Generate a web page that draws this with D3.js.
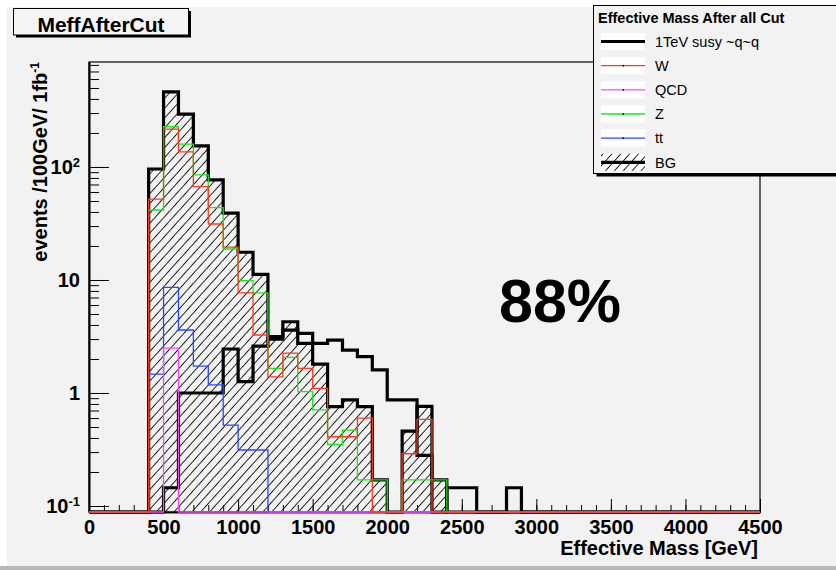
<!DOCTYPE html>
<html>
<head>
<meta charset="utf-8">
<script src="https://cdn.jsdelivr.net/npm/d3@7"></script>
<style>
  body { margin: 0; background: #fff; }
  text { font-family: "Liberation Sans", Arial, Helvetica, sans-serif; }
</style>
</head>
<body>
<div id="chart"></div>
<script>
var svgWidth = 836;
var svgHeight = 570;

// frame of the plot (pixels)
var frame = { left: 89, top: 62, right: 760, bottom: 512 };

// 100 GeV bins, 0 .. 4500 GeV
var binWidth = 100;
var binEdges = d3.range(0, 4501, binWidth);

// bin contents, events /100GeV/ 1fb-1 (45 bins each)
var susy = [0, 0, 0, 0, 0, 0.145, 1.0, 1.0, 1.0, 2.45, 1.26, 2.6, 3.0, 3.6, 3.37,
            2.75, 2.94, 2.4, 2.1, 1.6, 0.87, 0.87, 0.28, 0, 0.145, 0.145, 0, 0, 0.145, 0,
            0, 0, 0, 0, 0, 0, 0, 0, 0, 0, 0, 0, 0, 0, 0];
var bgTotal = [0, 0, 0, 0, 96, 461, 293, 154, 77, 39, 17.6, 11.2, 3.15, 4.27, 2.75,
               1.8, 0.757, 0.87, 0.757, 0.17, 0, 0.46, 0.76, 0.17, 0, 0, 0, 0, 0, 0,
               0, 0, 0, 0, 0, 0, 0, 0, 0, 0, 0, 0, 0, 0, 0];
var wJets = [0, 0, 0, 0, 52, 216, 136, 67, 31.3, 19.5, 7.7, 3.26, 1.39, 2.25, 1.65,
             1.10, 0.41, 0.41, 0.60, 0, 0, 0.29, 0.585, 0, 0, 0, 0, 0, 0, 0,
             0, 0, 0, 0, 0, 0, 0, 0, 0, 0, 0, 0, 0, 0, 0];
var qcd = [0, 0, 0, 0, 0, 2.49, 0, 0, 0, 0, 0, 0, 0, 0, 0,
           0, 0, 0, 0, 0, 0, 0, 0, 0, 0, 0, 0, 0, 0, 0,
           0, 0, 0, 0, 0, 0, 0, 0, 0, 0, 0, 0, 0, 0, 0];
var zJets = [0, 0, 0, 0, 41.6, 227, 159, 85, 43.6, 18.8, 9.86, 7.7, 1.65, 2.07, 1.03,
             0.71, 0.35, 0.47, 0.17, 0.17, 0, 0.17, 0.17, 0.17, 0, 0, 0, 0, 0, 0,
             0, 0, 0, 0, 0, 0, 0, 0, 0, 0, 0, 0, 0, 0, 0];
var ttbar = [0, 0, 0, 0, 1.47, 8.6, 3.61, 1.73, 1.18, 0.52, 0.313, 0.313, 0, 0, 0,
             0, 0, 0, 0, 0, 0, 0, 0, 0, 0, 0, 0, 0, 0, 0,
             0, 0, 0, 0, 0, 0, 0, 0, 0, 0, 0, 0, 0, 0, 0];

// axis ticks
var xMajorTicks = [0, 500, 1000, 1500, 2000, 2500, 3000, 3500, 4000, 4500];
var yMajorTicks = [0.1, 1, 10, 100];
var yTickLabels = [["10", "-1"], ["1", ""], ["10", ""], ["10", "2"]];

var legendLabels = ["1TeV susy ~q~q", "W", "QCD", "Z", "tt", "BG"];
var legendColors = ["#000", "#ff3a22", "#ff44ff", "#18e818", "#2a48ff", "#000"];

var svg = d3.select("#chart")
    .append("svg")
    .attr("width", svgWidth)
    .attr("height", svgHeight);

// hatch for the summed background
var defs = svg.append("defs");
defs.append("pattern")
    .attr("id", "hatch")
    .attr("patternUnits", "userSpaceOnUse")
    .attr("width", 12)
    .attr("height", 6.6)
    .attr("patternTransform", "rotate(-48)")
  .append("line")
    .attr("x1", 0).attr("y1", 3.3)
    .attr("x2", 12).attr("y2", 3.3)
    .attr("stroke", "#1a1a1a")
    .attr("stroke-width", 1);

// canvas background
svg.append("rect")
    .attr("x", 7).attr("y", 7)
    .attr("width", svgWidth - 7).attr("height", 559)
    .attr("fill", "#f2f2f2");
svg.append("rect")
    .attr("x", 0).attr("y", 566)
    .attr("width", svgWidth).attr("height", 4)
    .attr("fill", "#b8b8b8");

// scales
var x = d3.scaleLinear()
    .domain([0, 4500])
    .range([frame.left, frame.right]);

var yMin = 0.0885;
var y = d3.scaleLog()
    .domain([yMin, 849])
    .range([frame.bottom, frame.top]);

function yc(v) { return y(Math.max(v, yMin)); }

// axes
var xMinor = svg.append("g")
    .attr("transform", `translate(0, ${frame.bottom})`)
    .call(d3.axisBottom(x).tickValues(d3.range(0, 4501, 100)).tickSize(-7).tickSizeOuter(0).tickFormat(""));
var xAxis = svg.append("g")
    .attr("transform", `translate(0, ${frame.bottom})`)
    .call(d3.axisBottom(x).tickValues(xMajorTicks).tickSize(-13).tickSizeOuter(0).tickPadding(8).tickFormat(d3.format("d")));

var yMinorVals = [];
[-2, -1, 0, 1, 2].forEach(function(k) {
    for (var m = 2; m <= 9; m++) {
        var v = m * Math.pow(10, k);
        if (v > yMin && v < 849) yMinorVals.push(v);
    }
});
var yMinor = svg.append("g")
    .attr("transform", `translate(${frame.left}, 0)`)
    .call(d3.axisLeft(y).tickValues(yMinorVals).tickSize(-10).tickSizeOuter(0).tickFormat(""));
var yAxis = svg.append("g")
    .attr("transform", `translate(${frame.left}, 0)`)
    .call(d3.axisLeft(y).tickValues(yMajorTicks).tickSize(-20).tickSizeOuter(0).tickPadding(9).tickFormat(""));

[xMinor, xAxis, yMinor, yAxis].forEach(function(g) {
    g.selectAll("line").attr("stroke", "#000").attr("stroke-width", 1);
    g.select(".domain").attr("stroke", "#000").attr("stroke-width", 1.6);
});

xAxis.selectAll("text")
    .attr("font-family", "Liberation Sans, Arial, sans-serif")
    .attr("font-size", 20)
    .attr("font-weight", "bold")
    .attr("fill", "#000");

// y labels with superscripts
yAxis.selectAll(".tick text")
    .attr("font-family", "Liberation Sans, Arial, sans-serif")
    .attr("font-size", 20)
    .attr("font-weight", "bold")
    .attr("fill", "#000")
    .each(function(d, i) {
        var t = d3.select(this);
        t.append("tspan").text(yTickLabels[i][0]);
        if (yTickLabels[i][1]) {
            t.append("tspan")
                .attr("font-size", 13)
                .attr("dy", "-0.55em")
                .text(yTickLabels[i][1]);
        }
    });

// frame box
svg.append("rect")
    .attr("x", frame.left).attr("y", frame.top)
    .attr("width", frame.right - frame.left)
    .attr("height", frame.bottom - frame.top)
    .attr("fill", "none")
    .attr("stroke", "#000")
    .attr("stroke-width", 1.2);

// histograms
function points(vals) {
    var p = vals.map(function(v, i) { return [binEdges[i], v]; });
    p.push([binEdges[vals.length], vals[vals.length - 1]]);
    return p;
}

var stepLine = d3.line()
    .curve(d3.curveStepAfter)
    .x(d => x(d[0]))
    .y(d => yc(d[1]));

var stepArea = d3.area()
    .curve(d3.curveStepAfter)
    .x(d => x(d[0]))
    .y0(frame.bottom)
    .y1(d => yc(d[1]));

svg.append("path")
    .attr("d", stepArea(points(bgTotal)))
    .attr("fill", "url(#hatch)");

svg.append("path")
    .attr("d", stepLine(points(bgTotal)))
    .attr("fill", "none")
    .attr("stroke", "#000")
    .attr("stroke-width", 3.2);

svg.append("path")
    .attr("d", stepLine(points(susy)))
    .attr("fill", "none")
    .attr("stroke", "#000")
    .attr("stroke-width", 3.2);

var thinSeries = [
    { vals: ttbar, color: legendColors[4] },
    { vals: zJets, color: legendColors[3] },
    { vals: qcd, color: legendColors[2] },
    { vals: wJets, color: legendColors[1] }
];
thinSeries.forEach(function(s) {
    svg.append("path")
        .attr("d", stepLine(points(s.vals)))
        .attr("fill", "none")
        .attr("stroke", s.color)
        .attr("stroke-width", 1.3);
});

// axis titles
svg.append("text")
    .attr("x", 758)
    .attr("y", 555)
    .attr("text-anchor", "end")
    .attr("font-size", 20)
    .attr("font-weight", "bold")
    .text("Effective Mass [GeV]");

var yTitle = svg.append("text")
    .attr("transform", "translate(47, 62) rotate(-90)")
    .attr("text-anchor", "end")
    .attr("font-size", 20)
    .attr("font-weight", "bold");
yTitle.append("tspan").text("events /100GeV/ 1fb");
yTitle.append("tspan").attr("font-size", 12).attr("dy", "-0.7em").text("-1");

// title box
svg.append("rect")
    .attr("x", 16).attr("y", 11)
    .attr("width", 175).attr("height", 26.5)
    .attr("fill", "#000");
svg.append("rect")
    .attr("x", 13.5).attr("y", 8.5)
    .attr("width", 175).attr("height", 26.5)
    .attr("fill", "#f5f5f5")
    .attr("stroke", "#000")
    .attr("stroke-width", 1);
svg.append("text")
    .attr("x", 101)
    .attr("y", 31.5)
    .attr("text-anchor", "middle")
    .attr("font-size", 21)
    .attr("font-weight", "bold")
    .text("MeffAfterCut");

// legend
var lg = svg.append("g");
lg.append("rect")
    .attr("x", 596.5).attr("y", 8.5)
    .attr("width", 260).attr("height", 168)
    .attr("fill", "#000");
lg.append("rect")
    .attr("x", 593.5).attr("y", 5.5)
    .attr("width", 260).attr("height", 168)
    .attr("fill", "#f2f2f2")
    .attr("stroke", "#000")
    .attr("stroke-width", 1);
lg.append("text")
    .attr("x", 598)
    .attr("y", 23)
    .attr("font-size", 14.5)
    .attr("font-weight", "bold")
    .text("Effective Mass After all Cut");

var entryY = d3.scaleLinear().domain([0, 5]).range([41.5, 162.3]);
legendLabels.forEach(function(label, i) {
    var cy = entryY(i);
    lg.append("rect")
        .attr("x", 601).attr("y", cy - 8.5)
        .attr("width", 44).attr("height", 17)
        .attr("fill", "#fff");
    if (i === 5) {
        lg.append("rect")
            .attr("x", 601).attr("y", cy - 8.5)
            .attr("width", 44).attr("height", 17)
            .attr("fill", "url(#hatch)");
    }
    lg.append("line")
        .attr("x1", 601).attr("x2", 645)
        .attr("y1", cy).attr("y2", cy)
        .attr("stroke", legendColors[i])
        .attr("stroke-width", (i === 0 || i === 5) ? 3.2 : 1.3);
    if (i > 0 && i < 5) {
        lg.append("rect")
            .attr("x", 622.5).attr("y", cy - 0.75)
            .attr("width", 1.5).attr("height", 1.5)
            .attr("fill", "#000");
    }
    lg.append("text")
        .attr("x", 655)
        .attr("y", cy + 5.2)
        .attr("font-size", 14.5)
        .text(label);
});

// annotation
svg.append("text")
    .attr("x", 499)
    .attr("y", 321.5)
    .attr("font-family", "Lato, sans-serif")
    .attr("font-size", 61)
    .attr("font-weight", "bold")
    .text("88%");
</script>
</body>
</html>
